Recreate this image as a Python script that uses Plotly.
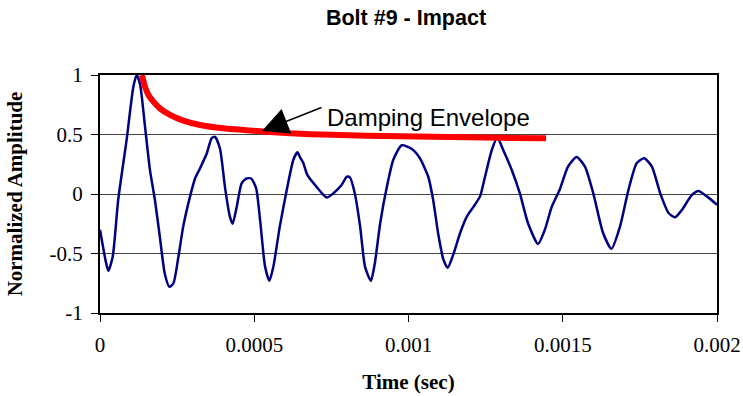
import plotly.graph_objects as go

# Waveform (time in microseconds, normalized amplitude)
time_us = [0, 19, 27, 41, 59, 86, 108, 119, 130, 146, 162, 178, 194, 210, 225, 238, 254, 270,
           292, 308, 324, 346, 362, 373, 389, 405, 421, 430, 443, 459, 475, 490, 506, 519, 535,
           549, 562, 583, 605, 627, 640, 648, 659, 672, 702, 735, 756, 783, 800, 810, 826, 843,
           859, 878, 891, 908, 929, 951, 978, 1010, 1037, 1064, 1080, 1096, 1113, 1127, 1145,
           1167, 1189, 1210, 1232, 1248, 1270, 1288, 1307, 1335, 1361, 1388, 1420, 1442, 1464,
           1490, 1517, 1545, 1572, 1599, 1631, 1658, 1686, 1713, 1740, 1764, 1789, 1816, 1843,
           1864, 1886, 1918, 1940, 1967, 2000]
amplitude = [-0.30, -0.57, -0.645, -0.53, -0.05, 0.45, 0.90, 1.00, 0.92, 0.565, 0.20, -0.05, -0.36,
             -0.67, -0.78, -0.75, -0.53, -0.27, -0.02, 0.13, 0.215, 0.34, 0.47, 0.48, 0.38, 0.06,
             -0.19, -0.25, -0.11, 0.09, 0.13, 0.13, 0.05, -0.22, -0.61, -0.73, -0.61, -0.27, 0.03,
             0.29, 0.35, 0.31, 0.26, 0.16, 0.06, -0.03, 0.005, 0.075, 0.145, 0.14, 0.005, -0.27,
             -0.61, -0.73, -0.58, -0.25, 0.05, 0.29, 0.41, 0.38, 0.30, 0.145, -0.05, -0.33, -0.55,
             -0.62, -0.51, -0.33, -0.19, -0.11, -0.02, 0.145, 0.37, 0.475, 0.37, 0.20, 0.005,
             -0.25, -0.42, -0.30, -0.11, 0.035, 0.23, 0.31, 0.23, 0.005, -0.33, -0.46, -0.27,
             0.035, 0.26, 0.30, 0.23, 0.005, -0.16, -0.195, -0.135, -0.01, 0.025, -0.02, -0.09]

# Damping envelope
env_time_us = [136, 146, 157, 173, 194, 227, 270, 324, 400, 508, 616, 750, 972, 1300, 1446]
env_amp = [1.0, 0.90, 0.832, 0.776, 0.72, 0.664, 0.616, 0.58, 0.552, 0.529, 0.51, 0.497,
           0.485, 0.472, 0.468]

x_ticks = [0, 0.0005, 0.001, 0.0015, 0.002]
x_tick_labels = ["0", "0.0005", "0.001", "0.0015", "0.002"]
y_ticks = [-1, -0.5, 0, 0.5, 1]
y_tick_labels = ["-1", "-0.5", "0", "0.5", "1"]

t = [v * 1e-6 for v in time_us]
te = [v * 1e-6 for v in env_time_us]

SERIF = "Liberation Serif, Times New Roman, serif"
SANS = "Liberation Sans, Arial, sans-serif"

fig = go.Figure()
fig.add_trace(go.Scatter(x=t, y=amplitude, mode="lines",
                         line=dict(color="#000080", width=2.5, shape="spline", smoothing=0.6),
                         showlegend=False, hoverinfo="skip"))
fig.add_trace(go.Scatter(x=te, y=env_amp, mode="lines",
                         line=dict(color="#FF0000", width=6, shape="spline", smoothing=0.5),
                         showlegend=False, hoverinfo="skip"))

axis_common = dict(showline=True, linecolor="black", linewidth=2, mirror=True,
                   ticks="outside", ticklen=7, tickcolor="black", tickwidth=1,
                   zeroline=False, automargin=False,
                   tickfont=dict(family=SERIF, size=21, color="black"))

fig.update_xaxes(range=[0, 0.002], tickvals=x_ticks, ticktext=x_tick_labels, showgrid=False,
                 ticklabelstandoff=5,
                 title=dict(text="<b>Time (sec)</b>", font=dict(family=SERIF, size=21, color="black"),
                            standoff=18),
                 **axis_common)
fig.update_yaxes(range=[-1, 1], tickvals=y_ticks, ticktext=y_tick_labels, showgrid=True,
                 gridcolor="#444444", gridwidth=1, ticklabelstandoff=4,
                 title=dict(text="<b>Normalized Amplitude</b>", font=dict(family=SERIF, size=21, color="black"),
                            standoff=21),
                 **axis_common)

fig.add_annotation(x=0.000525, y=0.53, xref="x", yref="y", text="", showarrow=True,
                   ax=61, ay=-24, arrowhead=2, arrowsize=3.5, arrowwidth=1.5, arrowcolor="black")
fig.add_annotation(x=0.00073, y=0.64, xref="x", yref="y", text="Damping Envelope", showarrow=False,
                   xanchor="left", yanchor="middle", font=dict(family=SANS, size=24, color="black"))

fig.update_layout(
    width=743, height=396,
    margin=dict(l=100, r=26, t=75, b=83),
    paper_bgcolor="white", plot_bgcolor="white",
    title=dict(text="<b>Bolt #9 - Impact</b>", x=406 / 743, xanchor="center", xref="container",
               y=1 - 17.5 / 396, yanchor="middle", yref="container",
               font=dict(family=SANS, size=21.5, color="black")),
)

fig.write_html("out.html")
